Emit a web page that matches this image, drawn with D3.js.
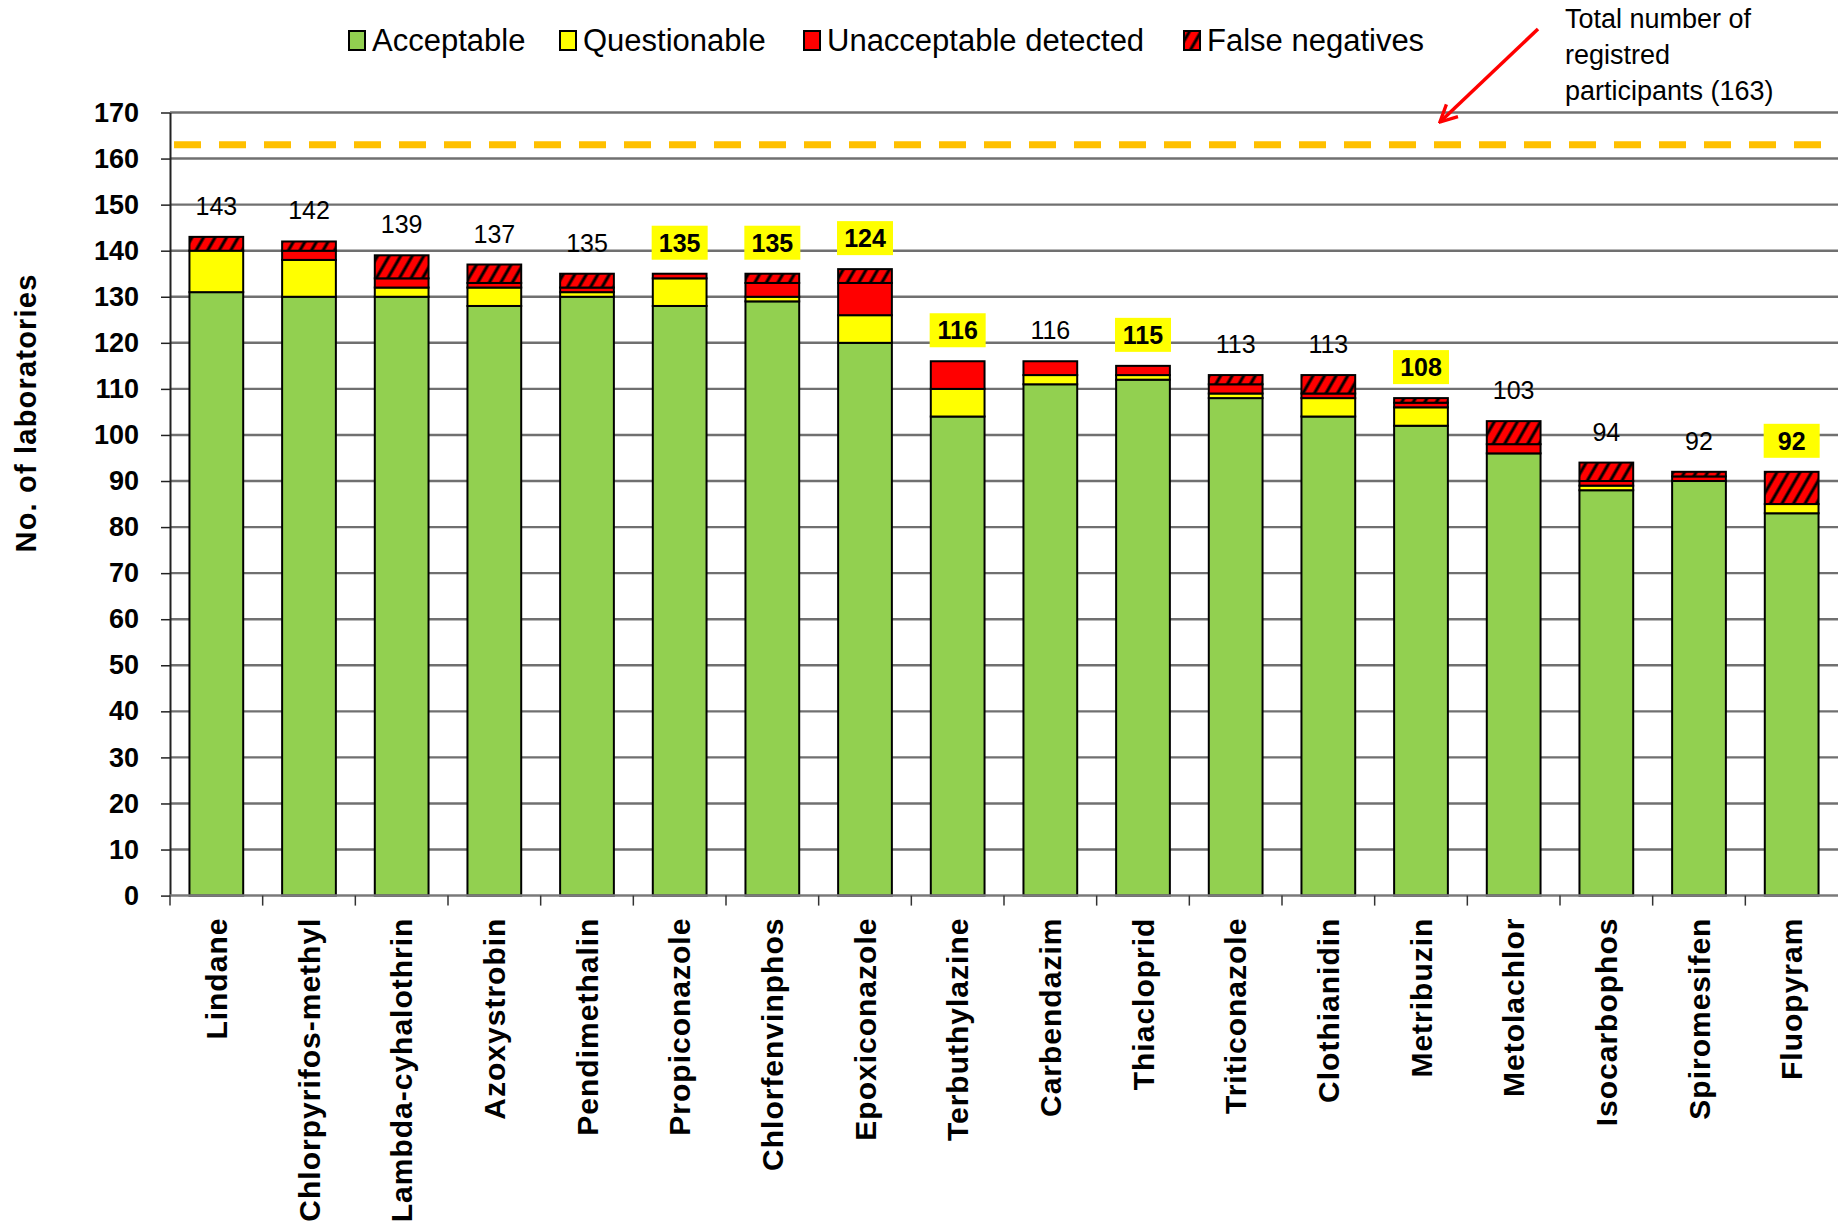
<!DOCTYPE html>
<html>
<head>
<meta charset="utf-8">
<script src="https://cdn.jsdelivr.net/npm/d3@7"></script>
<style>
  body { margin: 0; background: #fff; }
  svg { display: block; font-family: "Liberation Sans", Arial, sans-serif; }
</style>
</head>
<body>
<div id="chart"></div>
<script>
// data
const categories = ["Lindane", "Chlorpyrifos-methyl", "Lambda-cyhalothrin", "Azoxystrobin",
  "Pendimethalin", "Propiconazole", "Chlorfenvinphos", "Epoxiconazole", "Terbuthylazine",
  "Carbendazim", "Thiacloprid", "Triticonazole", "Clothianidin", "Metribuzin",
  "Metolachlor", "Isocarbophos", "Spiromesifen", "Fluopyram"];
const acceptable    = [131, 130, 130, 128, 130, 128, 129, 120, 104, 111, 112, 108, 104, 102, 96, 88, 90, 83];
const questionable  = [9, 8, 2, 4, 1, 6, 1, 6, 6, 2, 1, 1, 4, 4, 0, 1, 0, 2];
const unacceptable  = [0, 2, 2, 1, 1, 1, 3, 7, 6, 3, 2, 2, 1, 1, 2, 1, 1, 0];
const falseNegative = [3, 2, 5, 4, 3, 0, 2, 3, 0, 0, 0, 2, 4, 1, 5, 4, 1, 7];
const labelValues   = [143, 142, 139, 137, 135, 135, 135, 124, 116, 116, 115, 113, 113, 108, 103, 94, 92, 92];
const highlighted   = [0, 0, 0, 0, 0, 1, 1, 1, 1, 0, 1, 0, 0, 1, 0, 0, 0, 1];
const yTicks = d3.range(0, 171, 10);
const registered = 163;
const seriesNames = ["Acceptable", "Questionable", "Unacceptable detected", "False negatives"];

const W = 1838, H = 1226;
const svg = d3.select("#chart").append("svg")
    .attr("width", W).attr("height", H);

// hatch pattern for false negatives
const defs = svg.append("defs");
const pat = defs.append("pattern")
    .attr("id", "hatch")
    .attr("patternUnits", "userSpaceOnUse")
    .attr("width", 10).attr("height", 10)
    .attr("patternTransform", "rotate(30)");
pat.append("rect").attr("width", 10).attr("height", 10).attr("fill", "#ff0000");
pat.append("line").attr("x1", 5).attr("x2", 5).attr("y1", 0).attr("y2", 10)
    .attr("stroke", "#000").attr("stroke-width", 3);

const fills = ["#92d050", "#ffff00", "#ff0000", "url(#hatch)"];

// scales
const x = d3.scaleBand()
    .domain(categories)
    .range([170, 1838])
    .paddingInner(0.42)
    .paddingOuter(0.21);

const y = d3.scaleLinear()
    .domain([0, 170])
    .range([895.6, 112.5]);

// gridlines
svg.append("g")
    .selectAll("line")
    .data(yTicks.filter(d => d > 0))
    .join("line")
    .attr("x1", 170).attr("x2", W)
    .attr("y1", d => y(d)).attr("y2", d => y(d))
    .attr("stroke", "#707070")
    .attr("stroke-width", 2.4);

// registered participants line
svg.append("line")
    .attr("x1", 174).attr("x2", W)
    .attr("y1", y(registered)).attr("y2", y(registered))
    .attr("stroke", "#ffc000")
    .attr("stroke-width", 7)
    .attr("stroke-dasharray", "27 18");

// stacked data
const rows = categories.map((c, i) => ({
    name: c,
    Acceptable: acceptable[i],
    Questionable: questionable[i],
    "Unacceptable detected": unacceptable[i],
    "False negatives": falseNegative[i]
}));
const stacked = d3.stack().keys(seriesNames)(rows);

svg.append("g")
    .selectAll("g")
    .data(stacked)
    .join("g")
    .attr("fill", (d, i) => fills[i])
    .selectAll("rect")
    .data(d => d.filter(s => s[1] - s[0] > 0))
    .join("rect")
    .attr("x", d => x(d.data.name))
    .attr("width", x.bandwidth())
    .attr("y", d => y(d[1]))
    .attr("height", d => y(d[0]) - y(d[1]))
    .attr("stroke", "#000")
    .attr("stroke-width", 2);

// y axis
const yAxis = svg.append("g")
    .attr("transform", "translate(170,0)")
    .call(d3.axisLeft(y).tickValues(yTicks).tickSize(9).tickPadding(22).tickSizeOuter(0));
yAxis.select(".domain").attr("stroke", "#222").attr("stroke-width", 2);
yAxis.selectAll(".tick line").attr("stroke", "#222").attr("stroke-width", 1.5);
yAxis.selectAll("text")
    .attr("font-family", "'Liberation Sans', Arial, sans-serif")
    .attr("font-size", 27)
    .attr("font-weight", "bold")
    .attr("fill", "#000");

// x axis (ticks at category boundaries)
const gap = x.step() - x.bandwidth();
svg.append("line")
    .attr("x1", 170).attr("x2", W)
    .attr("y1", y(0)).attr("y2", y(0))
    .attr("stroke", "#7a7a7a").attr("stroke-width", 2.5);
svg.append("g")
    .selectAll("line")
    .data(categories)
    .join("line")
    .attr("x1", d => x(d) - gap / 2)
    .attr("x2", d => x(d) - gap / 2)
    .attr("y1", y(0)).attr("y2", y(0) + 10)
    .attr("stroke", "#333").attr("stroke-width", 1.5);

svg.append("g")
    .selectAll("text")
    .data(categories)
    .join("text")
    .attr("transform", d => `translate(${x(d) + x.bandwidth() / 2},${y(0) + 22}) rotate(-90)`)
    .attr("dy", "0.36em")
    .attr("text-anchor", "end")
    .attr("font-size", 30)
    .attr("font-weight", "bold")
    .attr("letter-spacing", 1)
    .text(d => d);

// y axis title
svg.append("text")
    .attr("transform", "translate(26,413) rotate(-90)")
    .attr("dy", "0.36em")
    .attr("text-anchor", "middle")
    .attr("font-size", 29)
    .attr("font-weight", "bold")
    .attr("letter-spacing", 1.2)
    .text("No. of laboratories");

// value labels over bars
const totals = rows.map((r, i) => acceptable[i] + questionable[i] + unacceptable[i] + falseNegative[i]);
const lab = svg.append("g")
    .selectAll("g")
    .data(categories)
    .join("g")
    .attr("transform", (d, i) => `translate(${x(d) + x.bandwidth() / 2},${y(totals[i]) - 31})`);
lab.filter((d, i) => highlighted[i])
    .append("rect")
    .attr("x", -28).attr("y", -17)
    .attr("width", 56).attr("height", 34)
    .attr("fill", "#ffff00");
lab.append("text")
    .attr("text-anchor", "middle")
    .attr("dy", "0.36em")
    .attr("font-size", 25)
    .attr("font-weight", (d, i) => highlighted[i] ? "bold" : "normal")
    .text((d, i) => labelValues[i]);

// legend
const legendX = [349, 560, 804, 1184];
const leg = svg.append("g")
    .selectAll("g")
    .data(seriesNames)
    .join("g")
    .attr("transform", (d, i) => `translate(${legendX[i]},31)`);
leg.append("rect")
    .attr("width", 16).attr("height", 19)
    .attr("fill", (d, i) => fills[i])
    .attr("stroke", "#000").attr("stroke-width", 2);
leg.append("text")
    .attr("x", 23).attr("y", 20)
    .attr("font-size", 31)
    .text(d => d);

// annotation
const note = svg.append("text")
    .attr("x", 1565)
    .attr("font-size", 27)
    .attr("font-family", "'Liberation Sans Narrow', 'Liberation Sans', Arial, sans-serif");
["Total number of", "registred", "participants (163)"].forEach((t, i) => {
    note.append("tspan").attr("x", 1565).attr("y", 28 + i * 36).text(t);
});

// red arrow
defs.append("marker")
    .attr("id", "arrow")
    .attr("viewBox", "0 0 10 10")
    .attr("refX", 9).attr("refY", 5)
    .attr("markerWidth", 6).attr("markerHeight", 6)
    .attr("orient", "auto")
    .append("path")
    .attr("d", "M1,1 L9,5 L1,9")
    .attr("fill", "none")
    .attr("stroke", "#ff0000")
    .attr("stroke-width", 1.6);
svg.append("line")
    .attr("x1", 1538).attr("y1", 29)
    .attr("x2", 1440).attr("y2", 122)
    .attr("stroke", "#ff0000")
    .attr("stroke-width", 3.5)
    .attr("marker-end", "url(#arrow)");
</script>
</body>
</html>
